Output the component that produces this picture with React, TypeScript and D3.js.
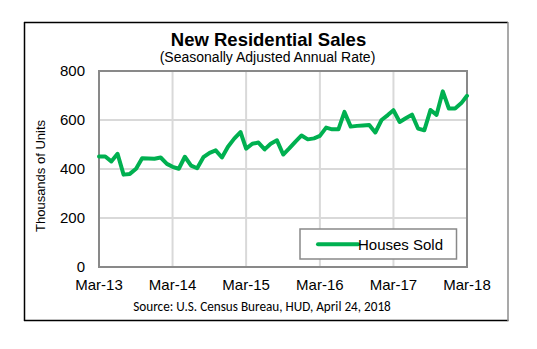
import React from "react";
import * as d3 from "d3";

const startMonth = new Date(2013, 2, 1);
const houseSales: number[] = [
  451, 451, 431, 462, 377, 380, 401, 444, 443, 442, 447, 421,
  409, 401, 450, 414, 403, 448, 466, 476, 447, 491, 524, 551,
  483, 503, 508, 480, 503, 517, 459, 484, 512, 537, 521, 525,
  535, 569, 562, 562, 633, 573, 576, 578, 580, 549, 600, 620,
  640, 592, 607, 622, 565, 558, 641, 621, 717, 647, 647, 669,
  699,
];
const yTicks = [0, 200, 400, 600, 800];
const xTickLabels = ["Mar-13", "Mar-14", "Mar-15", "Mar-16", "Mar-17", "Mar-18"];
const seriesName = "Houses Sold";
const title = "New Residential Sales";
const subtitle = "(Seasonally Adjusted Annual Rate)";
const yTitle = "Thousands of Units";
const source = "Source:  U.S. Census Bureau, HUD, April 24, 2018";

export default function App() {
  const W = 537, H = 349;
  const plot = { left: 99, right: 467, top: 71, bottom: 267 };
  const dates = houseSales.map((_, i) => d3.timeMonth.offset(startMonth, i));
  const xTickDates = xTickLabels.map((_, i) => d3.timeYear.offset(startMonth, i));
  const x = d3.scaleTime().domain([dates[0], dates[dates.length - 1]]).range([plot.left, plot.right]);
  const y = d3.scaleLinear().domain([0, 800]).range([plot.bottom, plot.top]);
  const line = d3.line<number>().x((_, i) => x(dates[i])).y((d) => y(d)).curve(d3.curveLinear);
  const font = "Arial, 'Liberation Sans', sans-serif";
  const green = "#00b050";
  const grid = "#d9d9d9";
  const border = "#898989";

  return (
    <svg width={W} height={H} style={{ position: "absolute", left: 0, top: 0, background: "#fff" }} fontFamily={font}>
      <rect x={0} y={0} width={W} height={H} fill="#fff" />
      {/* outer frame */}
      <line x1={24} y1={22.5} x2={508} y2={22.5} stroke="#000" strokeWidth={1.5} />
      <line x1={24.5} y1={22} x2={24.5} y2={321} stroke="#000" strokeWidth={1.5} />
      <line x1={24} y1={320.5} x2={508.5} y2={320.5} stroke="#000" strokeWidth={1.5} />
      <line x1={508} y1={22} x2={508} y2={321} stroke="#8c8c8c" strokeWidth={1.5} />

      <text x={268.5} y={46} textAnchor="middle" fontSize={18.5} fontWeight="bold" fill="#000">{title}</text>
      <text x={267.5} y={62} textAnchor="middle" fontSize={14} fill="#000">{subtitle}</text>

      {/* gridlines */}
      {yTicks.filter((t) => t > 0 && t < 800).map((t) => (
        <line key={"gy" + t} x1={plot.left} x2={plot.right} y1={y(t)} y2={y(t)} stroke={grid} strokeWidth={2} />
      ))}
      {xTickDates.slice(1, -1).map((d, i) => (
        <line key={"gx" + i} x1={x(d)} x2={x(d)} y1={plot.top} y2={plot.bottom} stroke={grid} strokeWidth={2} />
      ))}
      <rect x={plot.left} y={plot.top} width={plot.right - plot.left} height={plot.bottom - plot.top}
        fill="none" stroke={border} strokeWidth={2} />

      {/* y tick labels */}
      {yTicks.map((t) => (
        <text key={"yl" + t} x={85} y={y(t)} dy="0.35em" textAnchor="end" fontSize={15} fill="#000">{t}</text>
      ))}
      {/* x tick labels */}
      {xTickDates.map((d, i) => (
        <text key={"xl" + i} x={x(d)} y={290} textAnchor="middle" fontSize={15} fill="#000">{xTickLabels[i]}</text>
      ))}

      <text transform={`translate(45,176) rotate(-90)`} textAnchor="middle" fontSize={13} fill="#000">{yTitle}</text>

      {/* series */}
      <path d={line(houseSales) ?? ""} fill="none" stroke={green} strokeWidth={4} strokeLinejoin="round" strokeLinecap="round" />

      {/* legend */}
      <rect x={300} y={229} width={156.5} height={30} fill="#fff" stroke={border} strokeWidth={1.5} />
      <line x1={318} x2={358} y1={244.3} y2={244.3} stroke={green} strokeWidth={4} strokeLinecap="round" />
      <text x={358} y={244.3} dy="0.35em" fontSize={15} fill="#000">{seriesName}</text>

      <text x={262} y={311} textAnchor="middle" fontSize={13.2} fill="#000" fontFamily="Carlito, Lato, 'Open Sans', sans-serif">{source}</text>
    </svg>
  );
}
